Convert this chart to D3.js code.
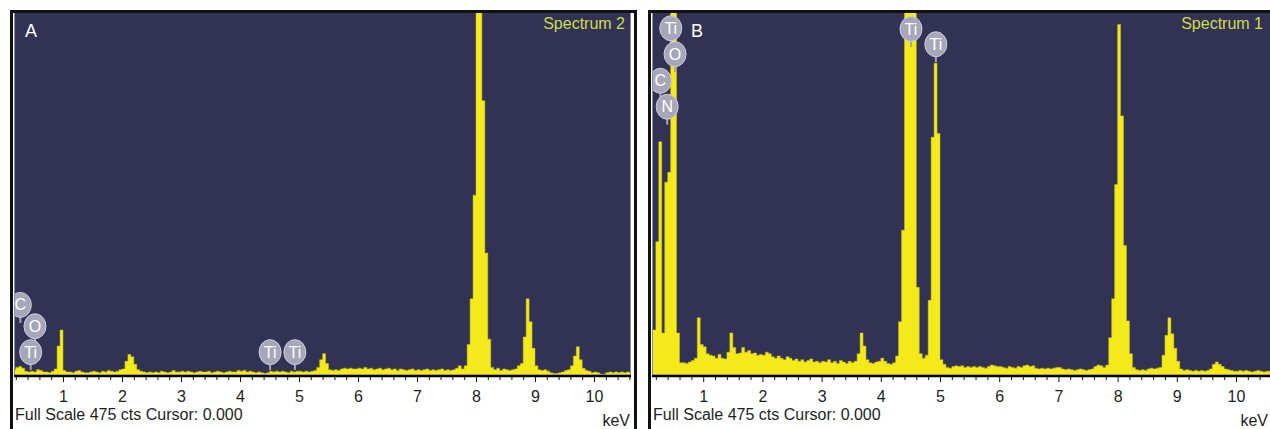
<!DOCTYPE html>
<html><head><meta charset="utf-8">
<script src="https://cdn.jsdelivr.net/npm/d3@7"></script>
<style>
html,body{margin:0;padding:0;background:#fff;overflow:hidden}
svg{display:block}
text{font-family:"Liberation Sans",Arial,Helvetica,sans-serif}
</style>
</head><body>
<svg id="chart" width="1270" height="429"></svg>
<script>
// ---------- DATA ----------
// channel layout: bins of 0.05 keV starting at 0.10 keV
const binStart = 0.10;
const binWidth = 0.05;
const fullScale = 475; // cts

// Panel A (Spectrum 2) counts per bin; rows: 0.10-0.95, 1.00-1.95, ... 10.00-10.70
const countsA = [
  6, 7, 10, 11, 9, 5, 4, 5, 4, 7, 6, 4, 4, 3, 5, 8, 38, 59,
  6, 4, 4, 3, 5, 6, 4, 3, 3, 4, 5, 4, 3, 5, 4, 6, 5, 4, 5, 7,
  8, 18, 27, 24, 14, 7, 5, 4, 3, 4, 3, 4, 3, 5, 4, 3, 4, 6, 4, 4,
  5, 4, 5, 4, 3, 4, 5, 4, 4, 5, 3, 4, 5, 4, 3, 4, 5, 4, 4, 6,
  5, 6, 4, 5, 4, 3, 4, 3, 2, 3, 5, 4, 5, 4, 5, 4, 3, 5, 4, 5,
  5, 4, 5, 4, 5, 6, 10, 20, 28, 15, 7, 6, 7, 6, 8, 9, 8, 9, 8, 8,
  9, 8, 10, 8, 9, 7, 8, 9, 7, 8, 9, 7, 8, 6, 8, 7, 6, 7, 8, 6,
  7, 6, 7, 8, 6, 7, 6, 7, 8, 6, 7, 6, 7, 9, 12, 8, 12, 40, 100, 236,
  900, 800, 360, 160, 47, 10, 7, 9, 6, 8, 7, 6, 7, 8, 12, 15, 50, 100, 70, 35,
  12, 7, 6, 7, 5, 3, 2, 2, 3, 4, 6, 7, 12, 25, 37, 20, 9, 6, 5, 3,
  4, 3, 1, 1, 3, 4, 3, 4, 3, 4, 3, 4, 3, 4, 3
];

// Panel B (Spectrum 1) counts per bin
const countsB = [
  59, 59, 175, 306, 55, 253, 266, 800, 800, 55, 16, 16, 15, 17, 19, 22, 75, 40,
  37, 28, 26, 25, 22, 27, 22, 21, 30, 55, 36, 28, 29, 36, 30, 32, 28, 29, 26, 27,
  26, 30, 28, 24, 22, 25, 22, 20, 24, 22, 19, 21, 18, 20, 17, 19, 21, 17, 18, 16,
  18, 17, 20, 16, 18, 15, 19, 17, 15, 18, 16, 18, 28, 55, 38, 20, 16, 15, 17, 18,
  22, 18, 15, 14, 16, 25, 70, 190, 700, 900, 900, 700, 115, 28, 22, 26, 98, 312, 409, 317,
  20, 14, 10, 9, 11, 12, 11, 12, 10, 11, 10, 11, 10, 11, 10, 9, 11, 13, 12, 11,
  11, 10, 9, 11, 10, 9, 11, 10, 12, 13, 11, 12, 9, 8, 9, 8, 9, 8, 9, 10,
  10, 8, 7, 8, 7, 6, 7, 8, 7, 6, 7, 8, 11, 13, 12, 10, 13, 49, 100, 250,
  460, 340, 170, 71, 28, 10, 7, 6, 7, 6, 8, 9, 8, 9, 10, 26, 52, 75, 54, 35,
  18, 8, 6, 7, 6, 5, 6, 5, 6, 5, 6, 8, 14, 17, 14, 11, 8, 7, 6, 5,
  5, 6, 5, 6, 5, 4, 5, 6, 5, 4, 5, 5, 4, 5, 4
];

// element markers: label, line energy (keV), marker level (cts)
const markerLabelsA = ["C", "O", "Ti", "Ti", "Ti"];
const markerEnergyA = [0.277, 0.525, 0.452, 4.51, 4.93];
const markerLevelA  = [92, 64, 30, 30, 30];

const markerLabelsB = ["Ti", "O", "C", "N", "Ti", "Ti"];
const markerEnergyB = [0.452, 0.525, 0.277, 0.392, 4.51, 4.93];
const markerLevelB  = [455, 421, 386, 352, 454, 434];

const majorTicks = [1, 2, 3, 4, 5, 6, 7, 8, 9, 10];
const statusText = "Full Scale 475 cts Cursor: 0.000";
const unitText = "keV";

// ---------- LAYOUT ----------
const svg = d3.select("#chart");
const plotTop = 13, axisY = 375;
const navy = "#323354", yellow = "#f3e91b";

const panels = [
  {letter: "A", letterX: 25, unitX: 630, title: "Spectrum 2", counts: countsA, labels: markerLabelsA, energy: markerEnergyA, level: markerLevelA,
   frameL: 10, frameR: 637, navyL: 14, navyR: 631, px0: 4, px10: 594},
  {letter: "B", letterX: 691, unitX: 1268, title: "Spectrum 1", counts: countsB, labels: markerLabelsB, energy: markerEnergyB, level: markerLevelB,
   frameL: 648, frameR: 1280, navyL: 652, navyR: 1273, px0: 644, px10: 1236}
];

const y = d3.scaleLinear().domain([0, fullScale]).range([axisY, plotTop]);

panels.forEach((p, pi) => {
  const g = svg.append("g");
  const x = d3.scaleLinear().domain([0, 10]).range([p.px0, p.px10]);

  // plot background
  g.append("rect").attr("x", p.navyL).attr("y", plotTop)
    .attr("width", p.navyR - p.navyL).attr("height", axisY - plotTop + 1)
    .attr("fill", navy);
  // light inner edges
  g.append("line").attr("x1", p.navyL + 0.5).attr("x2", p.navyL + 0.5)
    .attr("y1", plotTop).attr("y2", axisY).attr("stroke", "#8d8dae").attr("stroke-width", 1);
  g.append("line").attr("x1", p.navyR - 0.5).attr("x2", p.navyR - 0.5)
    .attr("y1", plotTop).attr("y2", axisY).attr("stroke", "#8d8dae").attr("stroke-width", 1);

  // clip
  const cid = "clip" + pi;
  svg.append("clipPath").attr("id", cid).append("rect")
    .attr("x", p.navyL + 1).attr("y", plotTop)
    .attr("width", p.navyR - p.navyL - 2).attr("height", axisY - plotTop);

  // spectrum
  const data = p.counts.map((c, i) => ({e: binStart + i * binWidth, c}));
  data.push({e: binStart + p.counts.length * binWidth, c: p.counts[p.counts.length - 1]});
  const area = d3.area().x(d => x(d.e)).y0(y(0)).y1(d => y(d.c)).curve(d3.curveStepAfter);
  g.append("path").datum(data).attr("clip-path", `url(#${cid})`)
    .attr("d", area).attr("fill", yellow)
    .attr("stroke", "#c9c020").attr("stroke-width", 0.5);

  // element markers
  const mk = g.append("g").attr("clip-path", `url(#${cid})`);
  p.labels.forEach((lab, i) => {
    const cx = x(p.energy[i]), cy = y(p.level[i]);
    mk.append("line").attr("x1", cx).attr("x2", cx).attr("y1", cy + 10).attr("y2", cy + 18)
      .attr("stroke", "#a4a4b8").attr("stroke-width", 2);
    mk.append("ellipse").attr("cx", cx).attr("cy", cy).attr("rx", 11).attr("ry", 12.5)
      .attr("fill", "#a7a7ba").attr("stroke", "#cfcfdc").attr("stroke-width", 1);
    mk.append("text").attr("x", cx).attr("y", cy + 5.5).attr("text-anchor", "middle")
      .attr("font-size", 16).attr("fill", "#ffffff").text(lab);
  });

  // panel letter & spectrum title
  g.append("text").attr("x", p.letterX).attr("y", 37).attr("font-size", 18)
    .attr("fill", "#ffffff").text(p.letter);
  g.append("text").attr("x", p.navyL + 611).attr("y", 29).attr("text-anchor", "end")
    .attr("font-size", 16).attr("fill", "#cfdc4c").text(p.title);

  // axis line
  g.append("line").attr("x1", p.navyL).attr("x2", p.navyR).attr("y1", axisY + 1).attr("y2", axisY + 1)
    .attr("stroke", "#000").attr("stroke-width", 2.5);

  // minor ticks
  const minor = d3.range(0.2, 10.7, 0.2).filter(v => Math.abs(v - Math.round(v)) > 0.01);
  const minorAxis = d3.axisBottom(x).tickValues(minor).tickSizeInner(3).tickSizeOuter(0).tickFormat("");
  const gm = g.append("g").attr("transform", `translate(0,${axisY + 2})`).call(minorAxis);
  gm.select(".domain").remove();
  gm.selectAll("line").attr("stroke", "#111");

  // major ticks + labels
  const majorAxis = d3.axisBottom(x).tickValues(majorTicks).tickSizeInner(5).tickSizeOuter(0)
    .tickPadding(9).tickFormat(d3.format("d"));
  const ga = g.append("g").attr("transform", `translate(0,${axisY + 2})`).call(majorAxis);
  ga.select(".domain").remove();
  ga.selectAll("line").attr("stroke", "#111");
  ga.selectAll("text").attr("font-size", 16).attr("fill", "#1e1e1e")
    .attr("font-family", '"Liberation Sans",Arial,sans-serif');

  // status text & unit
  g.append("text").attr("x", p.navyL + 1).attr("y", 420).attr("font-size", 16).attr("fill", "#1e1e1e")
    .text(statusText);
  g.append("text").attr("x", p.unitX).attr("y", 426).attr("text-anchor", "end")
    .attr("font-size", 16).attr("fill", "#1e1e1e").text(unitText);

  // frame
  g.append("path")
    .attr("d", `M${p.frameL + 1.5},440 V${11.5} H${p.frameR - 1.5} V440`)
    .attr("fill", "none").attr("stroke", "#111").attr("stroke-width", 3);
});
</script>
</body></html>
